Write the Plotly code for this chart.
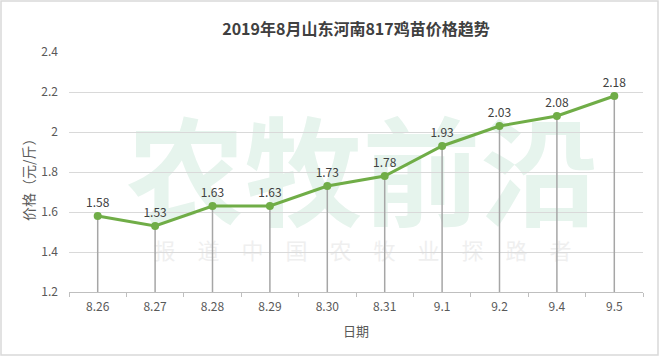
import plotly.graph_objects as go

dates = ["8.26", "8.27", "8.28", "8.29", "8.30", "8.31", "9.1", "9.2", "9.4", "9.5"]
prices = [1.58, 1.53, 1.63, 1.63, 1.73, 1.78, 1.93, 2.03, 2.08, 2.18]
y_min = 1.2
y_max = 2.4

xs = list(range(len(dates)))
FONT = "Noto Sans CJK SC"

fig = go.Figure()
fig.add_trace(go.Scatter(
    x=xs, y=prices, mode="lines+markers+text",
    text=[f"{v:.2f}" for v in prices], textposition="top center",
    textfont=dict(family=FONT, size=12, color="#404040"),
    line=dict(color="#70ad47", width=3),
    marker=dict(color="#70ad47", size=8),
    error_y=dict(type="data", symmetric=False, array=[0] * len(prices),
                 arrayminus=[v - y_min for v in prices],
                 color="#a6a6a6", thickness=1.5, width=0),
    cliponaxis=False, showlegend=False, hoverinfo="skip",
))

L, R, T, B = 69, 17, 52, 65
W, H = 660, 357
pw, ph = W - L - R, H - T - B

def px(x):
    return (x - L) / pw

def py(y):
    return (H - B - y) / ph

# outer border
fig.add_shape(type="rect", xref="paper", yref="paper",
              x0=px(1), x1=px(658), y0=py(355), y1=py(1),
              line=dict(color="#d9d9d9", width=1.5), fillcolor="rgba(0,0,0,0)", layer="below")
# watermark
fig.add_shape(type="rect", xref="paper", yref="paper",
              x0=px(130), x1=px(595), y0=py(240), y1=py(128),
              line=dict(width=0), fillcolor="rgba(0,0,0,0)", layer="below",
              label=dict(text="<b>农牧前沿</b>", font=dict(family=FONT, size=118, color="#e6f4ed"),
                         textposition="middle center"))
fig.add_shape(type="rect", xref="paper", yref="paper",
              x0=px(130), x1=px(595), y0=py(265), y1=py(240),
              line=dict(width=0), fillcolor="rgba(0,0,0,0)", layer="below",
              label=dict(text="报　道　中　国　农　牧　业　探　路　者",
                         font=dict(family=FONT, size=22, color="#efefef"),
                         textposition="middle center"))

# axis titles
fig.add_annotation(x=px(28), y=py(176), xref="paper", yref="paper", text="价格（元/斤）",
                   textangle=-90, showarrow=False, xanchor="center", yanchor="middle",
                   font=dict(family=FONT, size=14, color="#595959"))
fig.add_annotation(x=px(356), y=py(330), xref="paper", yref="paper", text="日期",
                   showarrow=False, xanchor="center", yanchor="middle",
                   font=dict(family=FONT, size=13, color="#595959"))

fig.update_layout(
    width=W, height=H,
    margin=dict(l=L, r=R, t=T, b=B),
    paper_bgcolor="white", plot_bgcolor="white",
    font=dict(family=FONT, color="#595959"),
    title=dict(text="<b>2019年8月山东河南817鸡苗价格趋势</b>", x=0.5, xref="paper",
               y=1 - 29.5 / H, yanchor="middle",
               font=dict(family=FONT, size=16, color="#404040")),
    xaxis=dict(
        range=[-0.5, len(dates) - 0.5], tickvals=xs, ticktext=dates,
        showgrid=False, zeroline=False, showline=True, linecolor="#bfbfbf", linewidth=1,
        ticks="", tickfont=dict(size=12, color="#595959"),
        minor=dict(tick0=-0.5, dtick=1, ticks="outside", ticklen=4, tickcolor="#bfbfbf", showgrid=False),
        ticklabelstandoff=4,
    ),
    yaxis=dict(
        range=[y_min, y_max], dtick=0.2, tick0=1.2,
        showgrid=True, gridcolor="#d9d9d9", gridwidth=1, zeroline=False,
        showline=False, ticks="", tickfont=dict(size=12, color="#595959"),
        ticklabelstandoff=10,
    ),
)

fig.write_html("out.html", config={"displayModeBar": False},
               post_script="document.body.style.margin='0';document.body.style.overflow='hidden';")
